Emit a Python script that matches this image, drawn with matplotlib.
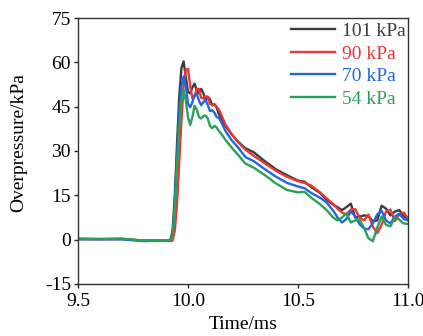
import numpy as np
import matplotlib
matplotlib.use('Agg')
import matplotlib.pyplot as plt

plt.rcParams['font.family'] = ['Liberation Serif', 'DejaVu Serif']
plt.rcParams['font.size'] = 14
plt.rcParams['axes.unicode_minus'] = False

# time grid (ms)
t = [9.50, 9.60, 9.70, 9.80, 9.85, 9.90, 9.92, 9.93, 9.94, 9.95,
     9.96, 9.97, 9.98, 9.99, 10.00, 10.01, 10.02, 10.03, 10.04, 10.05,
     10.06, 10.07, 10.08, 10.09, 10.10, 10.11, 10.12, 10.13, 10.14, 10.15,
     10.17, 10.20, 10.23, 10.26, 10.30, 10.35, 10.40, 10.45, 10.50, 10.53,
     10.56, 10.60, 10.63, 10.66, 10.68, 10.70, 10.72, 10.74, 10.76, 10.78,
     10.80, 10.82, 10.84, 10.86, 10.88, 10.90, 10.92, 10.94, 10.96, 10.98,
     11.00]

# overpressure (kPa) for each ambient pressure
p101 = [0.3, 0.2, 0.3, -0.4, -0.3, -0.4, 0.0, 3, 15, 32,
        48, 58, 60.3, 55, 50, 49.5, 51.5, 52.8, 50.5, 49.5,
        51, 49.5, 47, 48.3, 47.5, 45.5, 45.8, 44.8, 42.5, 41,
        38.5, 35.5, 33, 31, 29.5, 26.5, 23.8, 21.8, 20, 19.6,
        17.8, 15.8, 13.5, 11.8, 11, 10, 11, 12.2, 7.5, 7.8,
        8.2, 8, 6.2, 6.5, 11.5, 10.5, 8.2, 9.5, 10, 8,
        7.2]
p90 = [0.2, 0.1, 0.2, -0.3, -0.4, -0.4, -0.5, -0.3, 3, 12,
       26, 40, 52, 57.5, 57.8, 52, 47.8, 48.5, 51, 51,
       48, 47.8, 48.5, 48.3, 46, 45.5, 45.8, 45, 44, 42.5,
       39, 35.5, 32.8, 30.5, 28.3, 25.8, 23.3, 21.3, 19.8, 19.2,
       18.3, 16, 14, 12, 10.5, 9.2, 8.5, 10.2, 10.3, 7.5,
       6.5, 8.5, 4.5, 2.2, 5, 9.5, 10.2, 6.3, 8.5, 9.2,
       7.2]
p70 = [0.1, 0.2, 0.1, -0.5, -0.4, -0.4, -0.3, 2, 12, 28,
       43, 52, 55.2, 52, 46, 44.8, 46.5, 49, 49.3, 47,
       45.5, 46.5, 47.3, 45.5, 43.5, 43.8, 43, 41.5, 41.2, 40,
       36.8, 33.5, 31, 28, 26.5, 23.8, 21.3, 19.2, 18, 17.4,
       15.8, 14.2, 12.6, 9.8, 7.5, 5.8, 7, 9.5, 8, 5.2,
       3.8, 3.5, 5.5, 8.5, 9.8, 6.5, 5.5, 7.8, 8.8, 7,
       6.5]
p54 = [0.3, 0.2, 0.3, -0.3, -0.3, -0.3, -0.2, 1.5, 10, 25,
       38, 47, 50.6, 47, 41.5, 38.8, 41.5, 45.3, 44, 41.5,
       41, 41.8, 42, 41, 38.5, 37.7, 38.5, 38, 36.8, 36,
       33.8, 31, 28.5, 25.8, 24.3, 21.8, 19, 16.8, 16, 16.2,
       14.2, 12, 10, 7.5, 6.5, 7.5, 8.9, 5.8, 6.5, 6.8,
       4, 0.5, -0.5, 4, 7.8, 5, 4.5, 7.5, 6.8, 5.5,
       5.3]

labels = ['101 kPa', '90 kPa', '70 kPa', '54 kPa']
colors = ['#3d3d3d', '#ee3535', '#1f68e0', '#2aa05c']

fig = plt.figure(figsize=(4.23, 3.36), dpi=100)
ax = fig.add_axes([0.1844, 0.1548, 0.7801, 0.7916])

for p, lab, c in zip([p101, p90, p70, p54], labels, colors):
    ax.plot(t, p, color=c, lw=1.7, label=lab)

ax.set_xlim(9.5, 11.0)
ax.set_ylim(-15, 75)
ax.set_xticks([9.5, 10.0, 10.5, 11.0])
ax.set_xticklabels(['9.5', '10.0', '10.5', '11.0'])
ax.set_yticks(np.arange(-15, 76, 15))
ax.tick_params(direction='out', length=3, width=1, pad=2, colors='#222222')
ax.tick_params(axis='x', pad=3.5)
ax.tick_params(axis='both', labelcolor='black')
for s in ax.spines.values():
    s.set_color('#333333')
    s.set_linewidth(1)

ax.set_xlabel('Time/ms', labelpad=4)
ax.set_ylabel('Overpressure/kPa')
ax.yaxis.set_label_coords(-0.155, 0.53)

ax.legend(loc='upper right', bbox_to_anchor=(1.0, 0.99), frameon=False,
          borderaxespad=0, borderpad=0.1, labelspacing=0.25,
          handlelength=2.3, handletextpad=0.35, labelcolor='linecolor')

fig.savefig('out.png', dpi=100)
